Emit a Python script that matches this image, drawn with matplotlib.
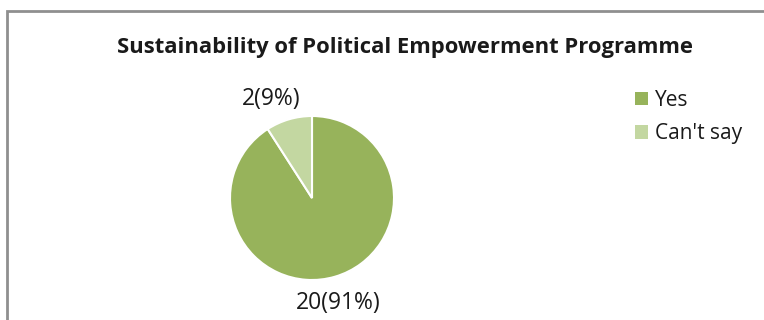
import matplotlib
matplotlib.use("Agg")
import matplotlib.pyplot as plt
from matplotlib.patches import Rectangle, Patch

# survey answers
labels = ["Yes", "Can't say"]
counts = [20, 2]
percents = [91, 9]
colors = ["#97B35B", "#C3D7A1"]

FONT = "Open Sans"
W, H = 764, 320
fig = plt.figure(figsize=(W / 100, H / 100), dpi=100)
fig.patch.set_facecolor("white")

# chart frame (only top and left sides fall inside the image)
fig.add_artist(Rectangle((7 / W, -0.1), 1.0, (H - 11) / H + 0.1,
                         transform=fig.transFigure, fill=False,
                         edgecolor="#8f8f8f", linewidth=2.0))

fig.text(405 / W, 1 - 47 / H, "Sustainability of Political Empowerment Programme",
         ha="center", va="center", fontsize=15.8, fontweight="bold",
         family=FONT, color="#1a1a1a")

# pie centred at (312, 198) px, radius 82 px
cx, cy, r = 312, 198, 82
ax = fig.add_axes([(cx - r) / W, (H - cy - r) / H, 2 * r / W, 2 * r / H])
wedges, _ = ax.pie(counts, colors=colors, startangle=90, counterclock=False,
                   wedgeprops=dict(edgecolor="white", linewidth=1.5))
ax.set_xlim(-1, 1)
ax.set_ylim(-1, 1)
ax.set_aspect("equal")

label_pos = [(0.32, -1.28), (-0.5, 1.21)]
for (x, y), n, p in zip(label_pos, counts, percents):
    ax.text(x, y, f"{n}({p}%)", ha="center", va="center", fontsize=16.5,
            family=FONT, color="#1a1a1a")

handles = [Patch(facecolor=c, edgecolor="none") for c in colors]
leg = fig.legend(handles, labels, loc="upper left",
                 bbox_to_anchor=(635 / W, 1 - 90 / H), frameon=False,
                 prop=dict(family=FONT, size=15), handlelength=0.62,
                 handleheight=0.62, handletextpad=0.35, labelspacing=0.6,
                 borderpad=0, borderaxespad=0)
for t in leg.get_texts():
    t.set_color("#1a1a1a")

fig.savefig("out.png", dpi=100)
